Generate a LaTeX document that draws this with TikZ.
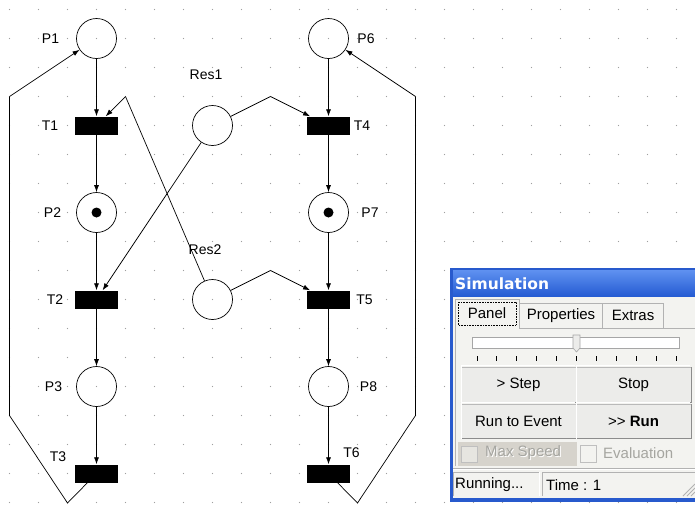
\documentclass[tikz,border=0pt]{standalone}
\usepackage{fontspec}
\setmainfont{Liberation Sans}
\newfontfamily\titlefont{DejaVu Sans}
\usetikzlibrary{arrows.meta}
\definecolor{winblue}{RGB}{40,90,205}
\definecolor{titletop}{RGB}{95,145,240}
\definecolor{titlebot}{RGB}{35,90,210}
\definecolor{clientbg}{RGB}{243,243,240}
\definecolor{btnbg}{RGB}{236,236,234}
\definecolor{disbg}{RGB}{214,211,204}
\definecolor{distext}{RGB}{165,165,160}
\tikzset{
  place/.style={circle, draw, minimum size=40pt, inner sep=0pt, line width=0.7pt},
  trans/.style={rectangle, fill=black, minimum width=43pt, minimum height=18pt, inner sep=0pt},
  lbl/.style={inner sep=0pt, font=\fontsize{14}{16}\selectfont},
  arr/.style={-{Latex[length=7pt,width=5pt]}, line width=0.7pt},
  plain/.style={line width=0.7pt},
  uitext/.style={inner sep=0pt, font=\fontsize{15}{17}\selectfont},
  btn/.style={fill=btnbg, draw=gray!55, line width=0.6pt}
}
\begin{document}
\begin{tikzpicture}[x=1pt,y=-1pt]
\useasboundingbox (0,0) rectangle (695,507);
\fill[white] (0,0) rectangle (695,507);
% grid dots
\foreach \i in {0,...,23} \foreach \j in {0,...,17}
  \fill[gray!75] (9.5+29*\i, 9.5+29*\j) circle (0.7pt);

% places
\node[place] (P1) at (96.5,38.5) {};
\node[place] (P2) at (96.5,212.5) {};
\node[place] (P3) at (96.5,386.5) {};
\node[place] (P6) at (328.5,38.5) {};
\node[place] (P7) at (328.5,212.5) {};
\node[place] (P8) at (328.5,386.5) {};
\node[place] (Res1) at (212.5,125.5) {};
\node[place] (Res2) at (212.5,299.5) {};
\fill (P2) circle (5pt);
\fill (P7) circle (5pt);
% transitions
\node[trans] (T1) at (96.5,125.5) {};
\node[trans] (T2) at (96.5,299.5) {};
\node[trans] (T3) at (96.5,473.5) {};
\node[trans] (T4) at (328.5,125.5) {};
\node[trans] (T5) at (328.5,299.5) {};
\node[trans] (T6) at (328.5,473.5) {};

% labels
\node[lbl] (lP1) at (50.5,39) {P1};
\node[lbl] (lT1) at (50,126) {T1};
\node[lbl] (lP2) at (52.5,212.5) {P2};
\node[lbl] (lT2) at (55,300) {T2};
\node[lbl] (lP3) at (53.5,387) {P3};
\node[lbl] (lT3) at (58,457) {T3};
\node[lbl] (lP6) at (366,39) {P6};
\node[lbl] (lT4) at (362,126) {T4};
\node[lbl] (lP7) at (370,212.5) {P7};
\node[lbl] (lT5) at (364.5,300) {T5};
\node[lbl] (lP8) at (368.5,387) {P8};
\node[lbl] (lT6) at (351.5,453) {T6};
\node[lbl] (lR1) at (206,75) {Res1};
\node[lbl] (lR2) at (205,250) {Res2};

% bend points
\coordinate (b1) at (67.5,503);
\coordinate (b2) at (9.5,415.5);
\coordinate (b3) at (9.5,96.5);
\coordinate (b4) at (357.5,503);
\coordinate (b5) at (415.5,415.5);
\coordinate (b6) at (415.5,96.5);
\coordinate (b7) at (125.5,96.5);
\coordinate (b8) at (270.5,96.5);
\coordinate (b9) at (270.5,270.5);

% arcs
\draw[arr] (P1) -- (T1);
\draw[arr] (T1) -- (P2);
\draw[arr] (P2) -- (T2);
\draw[arr] (T2) -- (P3);
\draw[arr] (P3) -- (T3);
\draw[arr] (P6) -- (T4);
\draw[arr] (T4) -- (P7);
\draw[arr] (P7) -- (T5);
\draw[arr] (T5) -- (P8);
\draw[arr] (P8) -- (T6);
\draw[plain] (T3) -- (b1) -- (b2) -- (b3);
\draw[arr] (b3) -- (P1);
\draw[plain] (T6) -- (b4) -- (b5) -- (b6);
\draw[arr] (b6) -- (P6);
\draw[plain] (Res2) -- (b7);
\draw[arr] (b7) -- (T1);
\draw[arr] (Res1) -- (T2);
\draw[plain] (Res1) -- (b8);
\draw[arr] (b8) -- (T4);
\draw[plain] (Res2) -- (b9);
\draw[arr] (b9) -- (T5);

% ---------- Simulation window ----------
\begin{scope}
\clip (0,0) rectangle (695,507);
\fill[winblue] (450,268) rectangle (700,502);
\shade[top color=titletop, bottom color=titlebot] (453,270) rectangle (700,297);
\fill[clientbg] (453,297) rectangle (700,498);
\node[anchor=west, text=white, inner sep=0pt, font=\titlefont\bfseries\fontsize{15.5}{18}\selectfont] (title) at (455,284) {Simulation};
% tab pane
\draw[gray!60, line width=0.6pt] (455,466) -- (455,328) -- (700,328);
% tabs
\filldraw[fill=clientbg, draw=gray!60, line width=0.6pt] (602,328) -- (602,303) -- (663,303) -- (663,328);
\filldraw[fill=clientbg, draw=gray!60, line width=0.6pt] (519,328) -- (519,303) -- (602,303) -- (602,328);
\filldraw[fill=clientbg, draw=gray!60, line width=0.6pt] (455,329) -- (455,299) -- (519,299) -- (519,329);
\fill[clientbg] (455.5,327) rectangle (518.5,330);
\draw[densely dotted, line width=0.6pt] (458,302) rectangle (516,325);
\node[uitext] (tabPanel) at (487,313) {Panel};
\node[uitext] (tabProp) at (561,315.5) {Properties};
\node[uitext] (tabExtras) at (633,315.5) {Extras};
% slider
\filldraw[fill=white, draw=gray!70, line width=0.7pt] (472,337) rectangle (679,348);
\filldraw[fill=btnbg, draw=gray!70, line width=0.6pt] (573,335) -- (580,335) -- (580,348) -- (576.5,352) -- (573,348) -- cycle;
\foreach \k in {0,...,10}
  \draw[line width=0.9pt] (477+19.9*\k,356) -- (477+19.9*\k,360.5);
% buttons
\node[btn, minimum width=115pt, minimum height=35pt, inner sep=0pt] (bStep) at (518.5,384.5) {};
\node[btn, minimum width=115pt, minimum height=35pt, inner sep=0pt] (bStop) at (633.5,384.5) {};
\node[btn, minimum width=115pt, minimum height=34pt, inner sep=0pt] (bRte) at (518.5,421) {};
\node[btn, minimum width=115pt, minimum height=34pt, inner sep=0pt] (bRun) at (633.5,421) {};
\foreach \b in {bStep,bStop,bRte,bRun}{
  \draw[gray!90, line width=1.2pt] (\b.south west) -- (\b.south east) -- (\b.north east);
  \draw[white, line width=0.8pt] ([shift={(1pt,-1pt)}]\b.south west) -- ([shift={(1pt,1pt)}]\b.north west) -- ([shift={(-1pt,1pt)}]\b.north east);
}
\node[uitext] at (bStep) {\mbox{>} Step};
\node[uitext] at (bStop) {Stop};
\node[uitext] at (bRte) {Run to Event};
\node[uitext] at (bRun) {\mbox{>}\mbox{>} \textbf{Run}};
% checkboxes
\fill[disbg] (458,442) rectangle (577,466);
\draw[gray!50, fill=disbg!60!white, line width=0.7pt] (461,446) rectangle (477,462);
\node[uitext, text=white, anchor=west] at (486,454) {Max Speed};
\node[uitext, text=distext, anchor=west] (cbMax) at (485,453) {Max Speed};
\draw[gray!50, fill=clientbg, line width=0.7pt] (580,445) rectangle (596,462);
\node[uitext, text=distext, anchor=west] (cbEval) at (603,453) {Evaluation};
% separator
\draw[gray!60, line width=0.8pt] (453,468) -- (700,468);
\draw[white, line width=0.8pt] (453,469.5) -- (700,469.5);
% status bar
\draw[gray!60, line width=0.7pt] (453,496) -- (453,472) -- (539,472);
\draw[white, line width=0.7pt] (539,472) -- (539,496);
\draw[gray!60, line width=0.7pt] (542,496) -- (542,472) -- (700,472);
\node[uitext, anchor=west] (stRun) at (455,485) {Running...};
\node[uitext, anchor=west] (stTime) at (546,485) {Time : 1};
\foreach \d in {4,8,12}
  \draw[gray!60, line width=0.8pt] (695-\d,496) -- (695,496-\d);
\end{scope}
\end{tikzpicture}
\end{document}
